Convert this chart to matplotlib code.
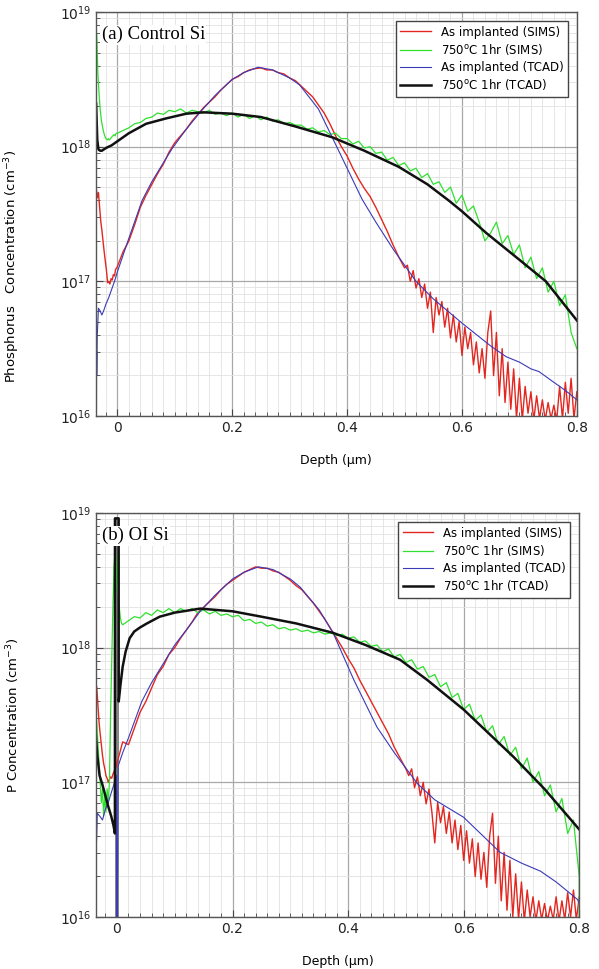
import numpy as np
import matplotlib
matplotlib.use("Agg")
import matplotlib.pyplot as plt
from matplotlib import ticker

# ---------------- data (log10 of concentration, cm^-3) ----------------
xtick_vals = [0, 0.2, 0.4, 0.6, 0.8]
xtick_labels = ['0', '0.2', '0.4', '0.6', '0.8']
legend_labels = ['As implanted (SIMS)', '750$^{\\rm o}$C 1hr (SIMS)',
                 'As implanted (TCAD)', '750$^{\\rm o}$C 1hr (TCAD)']

grid01 = np.round(np.arange(0.0, 0.501, 0.01), 3)
tail005 = np.round(np.arange(0.505, 0.8001, 0.005), 3)
grid_g_a = np.round(np.arange(0.0, 0.8001, 0.01), 3)
grid_g_b = np.round(np.arange(0.01, 0.8001, 0.01), 3)

# panel (a) - Control Si
red_left_x = [-0.037, -0.035, -0.033, -0.031, -0.029, -0.027, -0.025, -0.023, -0.021, -0.019,
              -0.017, -0.015, -0.013, -0.011, -0.009, -0.007, -0.005, -0.003, -0.001]
red_a_left = [17.70, 17.62, 17.66, 17.55, 17.45, 17.38, 17.30, 17.22, 17.15, 17.08,
              16.99, 17.00, 16.98, 17.02, 17.01, 17.05, 17.04, 17.09, 17.10]
red_a_main = [17.11, 17.22, 17.30, 17.42, 17.55, 17.64, 17.72, 17.80, 17.87, 17.96,
              18.03, 18.08, 18.13, 18.19, 18.24, 18.29, 18.33, 18.37, 18.42, 18.46,
              18.50, 18.52, 18.55, 18.57, 18.58, 18.585, 18.57, 18.57, 18.55, 18.54,
              18.51, 18.49, 18.45, 18.41, 18.37, 18.31, 18.25, 18.17, 18.08, 18.00,
              17.93, 17.84, 17.76, 17.69, 17.63, 17.55, 17.46, 17.37, 17.27, 17.18, 17.10]
red_a_tail = [17.12, 17.00, 17.08, 16.95, 17.02, 16.88, 16.98, 16.80, 16.92, 16.62,
              16.88, 16.75, 16.85, 16.66, 16.80, 16.58, 16.75, 16.55, 16.70, 16.45,
              16.66, 16.50, 16.62, 16.38, 16.55, 16.32, 16.50, 16.28, 16.62, 16.78,
              16.30, 16.62, 16.15, 16.50, 16.10, 16.40, 16.05, 16.35, 15.98, 16.28,
              15.97, 16.22, 16.02, 16.18, 15.97, 16.15, 15.98, 16.12, 15.97, 16.10,
              15.98, 16.08, 15.97, 16.22, 15.98, 16.25, 16.02, 16.28, 15.98, 16.18]

green_a_left_x = [-0.037, -0.036, -0.035, -0.034, -0.032, -0.030, -0.028, -0.026, -0.024, -0.022,
                  -0.020, -0.018, -0.016, -0.014, -0.012, -0.010, -0.008, -0.006, -0.004, -0.002]
green_a_left = [18.85, 18.84, 18.70, 18.55, 18.40, 18.28, 18.20, 18.15, 18.11, 18.08,
                18.06, 18.05, 18.06, 18.05, 18.06, 18.07, 18.08, 18.09, 18.08, 18.10]
green_a_main = [18.10, 18.12, 18.14, 18.17, 18.18, 18.21, 18.22, 18.25, 18.24, 18.27,
                18.26, 18.28, 18.25, 18.27, 18.26, 18.25, 18.27, 18.24, 18.25, 18.23,
                18.25, 18.22, 18.24, 18.21, 18.23, 18.20, 18.22, 18.19, 18.20, 18.17,
                18.18, 18.16, 18.16, 18.13, 18.14, 18.11, 18.12, 18.09, 18.10, 18.06,
                18.06, 18.02, 18.04, 17.99, 18.00, 17.95, 17.96, 17.90, 17.92, 17.86,
                17.88, 17.82, 17.84, 17.77, 17.80, 17.72, 17.74, 17.66, 17.70, 17.58,
                17.64, 17.52, 17.56, 17.44, 17.30, 17.36, 17.44, 17.28, 17.34, 17.20,
                17.27, 17.10, 17.18, 17.02, 17.10, 16.92, 17.00, 16.82, 16.90, 16.62, 16.50]

blue_a_x = [-0.0365, -0.0362, -0.036, -0.035, -0.033, -0.030, -0.027, -0.024, -0.020, -0.015,
            -0.010, -0.005, 0.0, 0.02, 0.043, 0.06, 0.08, 0.096, 0.12, 0.143,
            0.17, 0.2, 0.22, 0.245, 0.27, 0.3, 0.317, 0.35, 0.374, 0.4,
            0.426, 0.45, 0.48, 0.52, 0.55, 0.6, 0.65, 0.677, 0.7, 0.72,
            0.734, 0.76, 0.78, 0.8]
blue_a = [15.9, 16.48, 16.3, 16.6, 16.80, 16.78, 16.75, 16.78, 16.83, 16.88,
          16.94, 17.0, 17.07, 17.32, 17.60, 17.74, 17.88, 17.99, 18.13, 18.25,
          18.38, 18.50, 18.55, 18.59, 18.57, 18.51, 18.46, 18.28, 18.07, 17.84,
          17.61, 17.44, 17.24, 17.00, 16.87, 16.69, 16.52, 16.44, 16.40, 16.35,
          16.33, 16.25, 16.19, 16.12]

black_a_x = [-0.037, -0.035, -0.033, -0.030, -0.027, -0.020, -0.010, 0.0, 0.02, 0.05,
             0.085, 0.12, 0.15, 0.2, 0.25, 0.31, 0.374, 0.43, 0.49, 0.54,
             0.577, 0.6, 0.642, 0.7, 0.746, 0.8]
black_a = [18.32, 18.05, 17.98, 17.97, 17.97, 17.99, 18.01, 18.04, 18.10, 18.17,
           18.21, 18.245, 18.255, 18.245, 18.22, 18.15, 18.07, 17.97, 17.85, 17.72,
           17.60, 17.52, 17.36, 17.16, 17.0, 16.71]

# panel (b) - OI Si
red_b_left = [17.68, 17.71, 17.58, 17.45, 17.36, 17.28, 17.20, 17.14, 17.10, 17.05,
              17.03, 17.00, 17.02, 17.04, 17.03, 17.06, 17.08, 17.10, 17.12]
red_b_main = [17.14, 17.30, 17.28, 17.40, 17.52, 17.60, 17.70, 17.80, 17.86, 17.95,
              18.00, 18.07, 18.13, 18.19, 18.26, 18.30, 18.34, 18.38, 18.43, 18.47,
              18.50, 18.53, 18.56, 18.58, 18.60, 18.59, 18.59, 18.57, 18.56, 18.53,
              18.50, 18.46, 18.43, 18.38, 18.33, 18.27, 18.21, 18.14, 18.07, 18.00,
              17.92, 17.85, 17.76, 17.68, 17.60, 17.52, 17.44, 17.36, 17.26, 17.18, 17.10]
red_b_tail = [17.05, 17.10, 16.96, 17.04, 16.90, 17.00, 16.84, 16.95, 16.78, 16.55,
              16.85, 16.70, 16.82, 16.62, 16.78, 16.55, 16.72, 16.50, 16.68, 16.42,
              16.64, 16.40, 16.58, 16.30, 16.55, 16.28, 16.48, 16.22, 16.60, 16.77,
              16.25, 16.60, 16.12, 16.48, 16.05, 16.42, 16.00, 16.32, 15.98, 16.26,
              15.97, 16.20, 16.00, 16.15, 15.97, 16.12, 15.98, 16.10, 15.97, 16.08,
              15.98, 16.15, 15.97, 16.12, 15.98, 16.18, 16.00, 16.20, 15.98, 16.15]

green_b_left_x = [-0.037, -0.035, -0.033, -0.031, -0.029, -0.027, -0.025, -0.023, -0.021, -0.019,
                  -0.017, -0.015, -0.013, -0.011, -0.009, -0.007, -0.005, -0.003, -0.0015, 0.0,
                  0.002, 0.004, 0.006, 0.008]
green_b_left = [17.59, 17.45, 17.30, 17.15, 17.00, 16.85, 16.95, 16.75, 16.90, 16.78,
                16.95, 16.85, 17.00, 17.50, 17.90, 18.30, 18.60, 18.73, 18.65, 18.50,
                18.40, 18.30, 18.22, 18.18]
green_b_main = [18.17, 18.20, 18.23, 18.22, 18.26, 18.24, 18.28, 18.26, 18.29, 18.26,
                18.29, 18.27, 18.29, 18.26, 18.28, 18.25, 18.27, 18.24, 18.25, 18.23,
                18.24, 18.20, 18.21, 18.18, 18.19, 18.16, 18.17, 18.14, 18.15, 18.13,
                18.14, 18.12, 18.13, 18.11, 18.12, 18.10, 18.11, 18.09, 18.10, 18.07,
                18.08, 18.04, 18.05, 18.01, 18.02, 17.97, 17.99, 17.93, 17.95, 17.89,
                17.91, 17.84, 17.86, 17.78, 17.80, 17.71, 17.74, 17.63, 17.66, 17.54,
                17.58, 17.46, 17.50, 17.37, 17.42, 17.28, 17.34, 17.20, 17.26, 17.10,
                17.18, 17.00, 17.08, 16.90, 16.98, 16.78, 16.88, 16.62, 16.72, 16.30]
green_b_end_x = [0.8]
green_b_end = [15.9]

blue_b_x = [-0.0365, -0.036, -0.035, -0.034, -0.030, -0.025, -0.020, -0.015, -0.010, -0.004,
            -0.001, -0.0005, 0.0005, 0.002, 0.01, 0.02, 0.043, 0.06, 0.08, 0.1,
            0.12, 0.144, 0.17, 0.2, 0.22, 0.245, 0.27, 0.3, 0.317, 0.35,
            0.374, 0.41, 0.45, 0.48, 0.52, 0.55, 0.6, 0.663, 0.7, 0.733,
            0.76, 0.78, 0.797, 0.8]
blue_b = [15.9, 16.48, 16.6, 16.77, 16.75, 16.72, 16.80, 16.85, 16.92, 17.0,
          17.05, 15.9, 15.9, 17.12, 17.22, 17.33, 17.60, 17.74, 17.88, 18.02,
          18.13, 18.27, 18.39, 18.51, 18.56, 18.60, 18.58, 18.51, 18.45, 18.28,
          18.11, 17.76, 17.41, 17.22, 16.99, 16.87, 16.74, 16.48, 16.40, 16.34,
          16.26, 16.19, 16.13, 16.10]

black_b_x = [-0.037, -0.034, -0.030, -0.025, -0.020, -0.015, -0.010, -0.006, -0.0035, -0.0034,
             0.003, 0.0031, 0.006, 0.010, 0.015, 0.022, 0.030, 0.040, 0.052, 0.074,
             0.1, 0.144, 0.2, 0.25, 0.31, 0.374, 0.43, 0.49, 0.537, 0.6,
             0.686, 0.74, 0.8]
black_b = [17.38, 17.20, 17.05, 16.98, 16.90, 16.82, 16.75, 16.68, 16.62, 18.96,
           18.96, 17.60, 17.72, 17.86, 17.97, 18.07, 18.12, 18.15, 18.18, 18.23,
           18.26, 18.29, 18.27, 18.23, 18.18, 18.11, 18.02, 17.91, 17.76, 17.54,
           17.19, 16.95, 16.65]

# ---------------- drawing ----------------
RED = '#e3261f'
GREEN = '#2fe02f'
BLUE = '#3a3ab8'
BLACK = '#111111'


def style_axes(ax, xmin, title, ylabel, ylab_y):
    ax.set_yscale('log')
    ax.set_ylim(1e16, 1e19)
    ax.set_xlim(xmin, 0.8)
    ax.set_xticks(xtick_vals)
    ax.set_xticklabels(xtick_labels)
    ax.xaxis.set_minor_locator(ticker.MultipleLocator(0.02))
    ax.yaxis.set_major_locator(ticker.LogLocator(base=10, numticks=10))
    ax.yaxis.set_minor_locator(ticker.LogLocator(base=10, subs=np.arange(2, 10), numticks=20))
    ax.yaxis.set_minor_formatter(ticker.NullFormatter())
    ax.grid(which='major', color='#a8a8a8', lw=0.9)
    ax.grid(which='minor', color='#e2e2e2', lw=0.6)
    ax.set_axisbelow(True)
    ax.tick_params(which='both', direction='in', top=False, right=False, colors='#444444',
                   labelcolor='#222222', labelsize=10)
    ax.tick_params(which='major', length=5)
    ax.tick_params(which='minor', length=3)
    for s in ax.spines.values():
        s.set_color('#555555')
        s.set_linewidth(1.0)
    ax.set_xlabel('Depth (µm)', fontsize=9, labelpad=14)
    ax.set_ylabel(ylabel, fontsize=9.5)
    ax.yaxis.set_label_coords(-0.153, ylab_y)
    ax.text(0.012, 0.965, title, transform=ax.transAxes, ha='left', va='top',
            fontsize=13.5, family='Liberation Serif',
            bbox=dict(facecolor='white', edgecolor='none', pad=1.0))
    leg = ax.legend(loc='upper right', fontsize=8.5, handlelength=2.6, handletextpad=0.8,
                    fancybox=False, framealpha=1, edgecolor='#444444',
                    borderaxespad=0.75, labelspacing=0.3)
    leg.get_frame().set_linewidth(1.0)


fig = plt.figure(figsize=(5.99, 9.69), dpi=100)

ax1 = fig.add_axes([0.160, 0.5707, 0.803, 0.4169])
ax1.plot(np.r_[red_left_x, grid01, tail005], 10 ** np.r_[red_a_left, red_a_main, red_a_tail],
         color=RED, lw=1.0, label=legend_labels[0])
ax1.plot(np.r_[green_a_left_x, grid_g_a], 10 ** np.r_[green_a_left, green_a_main],
         color=GREEN, lw=0.9, label=legend_labels[1])
ax1.plot(blue_a_x, 10 ** np.array(blue_a), color=BLUE, lw=0.8, label=legend_labels[2])
ax1.plot(black_a_x, 10 ** np.array(black_a), color=BLACK, lw=1.8, label=legend_labels[3])
style_axes(ax1, -0.0375, '(a) Control Si', 'Phosphorus   Concentration (cm$^{-3}$)', 0.37)

ax2 = fig.add_axes([0.160, 0.0537, 0.807, 0.4169])
ax2.plot(np.r_[red_left_x, grid01, tail005], 10 ** np.r_[red_b_left, red_b_main, red_b_tail],
         color=RED, lw=1.0, label=legend_labels[0])
ax2.plot(np.r_[green_b_left_x, grid_g_b, green_b_end_x],
         10 ** np.r_[green_b_left, green_b_main, green_b_end],
         color=GREEN, lw=0.9, label=legend_labels[1])
ax2.plot(blue_b_x, 10 ** np.array(blue_b), color=BLUE, lw=0.8, label=legend_labels[2])
bbx = np.array(black_b_x)
bby = 10 ** np.array(black_b)
spike = (bbx >= -0.0034) & (bbx <= 0.003)
ax2.fill_between(bbx[spike], 1e16, bby[spike], color='#888888', lw=0)
ax2.plot(bbx, bby, color=BLACK, lw=1.8, label=legend_labels[3])
style_axes(ax2, -0.0365, '(b) OI Si', 'P Concentration (cm$^{-3}$)', 0.5)

fig.savefig('out.png', dpi=100, facecolor='white')
